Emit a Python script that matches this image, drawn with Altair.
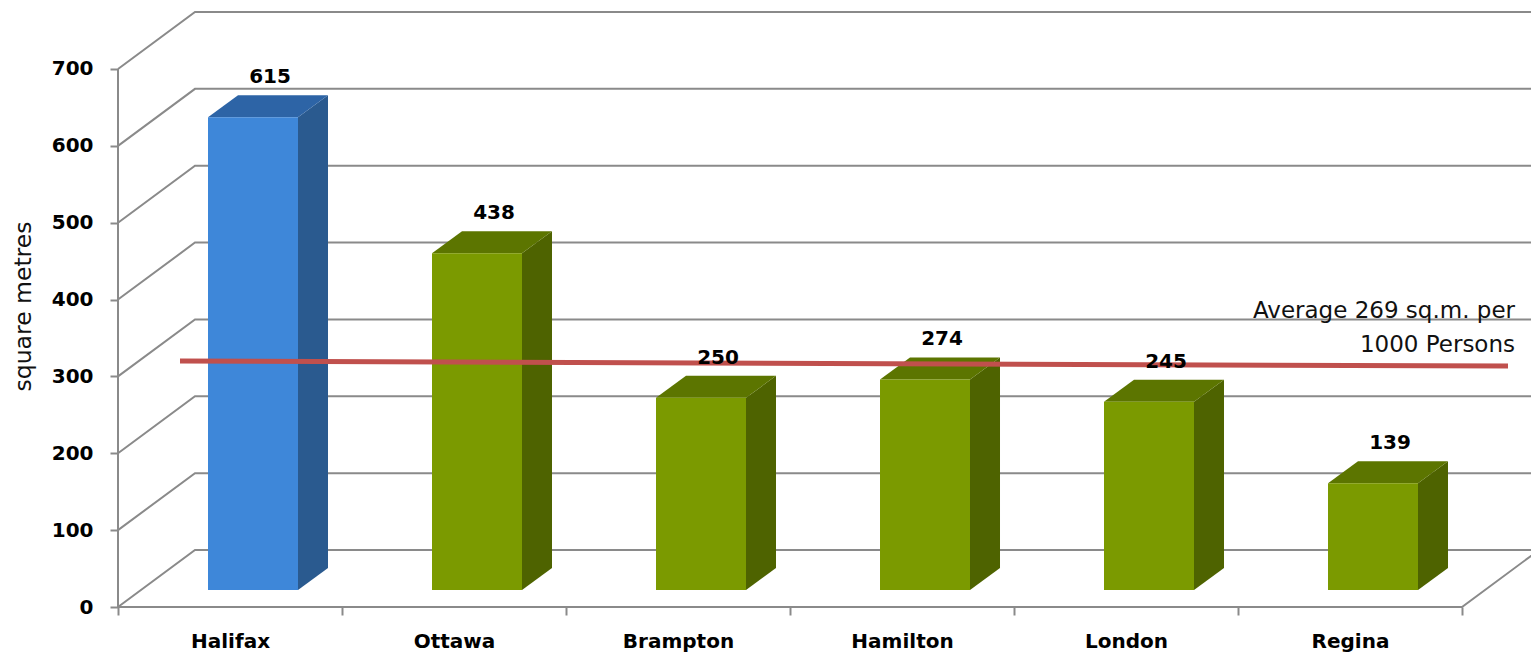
import json
import altair as alt
import pandas as pd

# ---- data -------------------------------------------------------------
cities = ["Halifax", "Ottawa", "Brampton", "Hamilton", "London", "Regina"]
area_per_1000 = [615, 438, 250, 274, 245, 139]
average_value = 269
y_ticks = [0, 100, 200, 300, 400, 500, 600, 700]
highlight_city = "Halifax"

# ---- styling / pseudo-3D geometry ------------------------------------
FONT = "DejaVu Sans"
GRID = "#8a8a8a"
FRONT = {"blue": "#3e87d9", "green": "#7b9a00"}
SIDE = {"blue": "#2a5a8f", "green": "#4e6300"}
TOP = {"blue": "#2d64a6", "green": "#5c7500"}

PLOT_W, PLOT_H = 1413, 607
X_MAX = 6.308          # category units across the plot (incl. wall depth)
Y_MAX = 789.75         # value units up the plot (incl. wall depth)
UX = PLOT_W / X_MAX    # px per category
UY = PLOT_H / Y_MAX    # px per value unit


def cx(px):
    return px / UX


def cy(px):
    return px / UY


WALL_DX, WALL_DY = cx(77), cy(57)     # depth of the back wall
BAR_W = cx(90)
BAR_FX, BAR_FY = cx(23), cy(17)       # depth of the bars' front face
BAR_DX, BAR_DY = cx(30), cy(22)       # thickness of the bars
AVG_LIFT_L, AVG_LIFT_R = 0.69 * WALL_DY, 0.60 * WALL_DY
AVG_X0, AVG_X1 = cx(62), cx(1390)

n = len(cities)

# ---- tables built from the arrays ------------------------------------
grid_rows = []
for v in y_ticks:
    pts = [(0, v), (WALL_DX, v + WALL_DY), (X_MAX, v + WALL_DY)]
    for k, (x, y) in enumerate(pts):
        grid_rows.append({"g": v, "k": k, "x": x, "y": y})
grid_df = pd.DataFrame(grid_rows)

frame_pts = [(0, y_ticks[-1]), (0, 0), (n, 0), (n + WALL_DX, WALL_DY)]
frame_df = pd.DataFrame(
    [{"k": k, "x": x, "y": y} for k, (x, y) in enumerate(frame_pts)]
)

front_rows, side_rows, top_rows, label_rows = [], [], [], []
for i, (c, v) in enumerate(zip(cities, area_per_1000)):
    tone = "blue" if c == highlight_city else "green"
    xl = i + 0.5 - BAR_W / 2 + BAR_FX
    xr = i + 0.5 + BAR_W / 2 + BAR_FX
    front_rows.append({"city": c, "x": xl, "x2": xr, "y": BAR_FY,
                       "y2": v + BAR_FY, "col": FRONT[tone]})
    side_rows += [
        {"city": c, "x": xr, "lo": BAR_FY, "hi": v + BAR_FY, "col": SIDE[tone]},
        {"city": c, "x": xr + BAR_DX, "lo": BAR_FY + BAR_DY,
         "hi": v + BAR_FY + BAR_DY, "col": SIDE[tone]},
    ]
    top_rows += [
        {"city": c, "y": v + BAR_FY, "xl": xl, "xr": xr, "col": TOP[tone]},
        {"city": c, "y": v + BAR_FY + BAR_DY, "xl": xl + BAR_DX,
         "xr": xr + BAR_DX, "col": TOP[tone]},
    ]
    label_rows.append({"city": c, "v": v, "x": (xl + xr) / 2 + BAR_DX / 2 + cx(2),
                       "y": v + BAR_FY + BAR_DY})
front_df = pd.DataFrame(front_rows)
side_df = pd.DataFrame(side_rows)
top_df = pd.DataFrame(top_rows)
label_df = pd.DataFrame(label_rows)

avg_df = pd.DataFrame([
    {"k": 0, "x": AVG_X0, "y": average_value + AVG_LIFT_L},
    {"k": 1, "x": AVG_X1, "y": average_value + AVG_LIFT_R},
])
avg_text_df = pd.DataFrame([{"t": f"Average {average_value} sq.m. per\n1000 Persons"}])

# ---- scales & axes ----------------------------------------------------
xscale = alt.Scale(domain=[0, X_MAX], nice=False, zero=False)
yscale = alt.Scale(domain=[0, Y_MAX], nice=False, zero=False)

names_js = json.dumps(cities)
x_axis = alt.Axis(
    values=[k / 2 for k in range(2 * n + 1)],
    labelExpr=f"datum.value % 1 === 0 ? '' : {names_js}[floor(datum.value)]",
    tickOpacity={"condition": {"test": "datum.value % 1 === 0", "value": 1}, "value": 0},
    tickSize=8, tickWidth=2, tickColor=GRID,
    domain=False, grid=False, labelFlush=False, labelOverlap=False,
    labelFont=FONT, labelFontSize=20, labelFontWeight="bold", labelColor="#000000",
    labelPadding=16, title=None,
)
y_axis = alt.Axis(
    values=y_ticks, domain=False, grid=False,
    tickSize=8, tickWidth=2, tickColor=GRID,
    labelFont=FONT, labelFontSize=20, labelFontWeight="bold", labelColor="#000000",
    labelPadding=17,
    title="square metres", titleFont=FONT, titleFontSize=23.5,
    titleFontWeight="normal", titleColor="#111111",
    titleAngle=-90, titleX=-95, titleY=306,
    titleAlign="center", titleBaseline="middle",
)


def X(field):
    return alt.X(field, scale=xscale, axis=x_axis)


def Y(field):
    return alt.Y(field, scale=yscale, axis=y_axis)


# ---- layers -----------------------------------------------------------
grid = alt.Chart(grid_df).mark_line(color=GRID, strokeWidth=2).encode(
    x=X("x:Q"), y=Y("y:Q"), detail="g:N", order="k:Q",
)

frame = alt.Chart(frame_df).mark_line(color=GRID, strokeWidth=2).encode(
    x=X("x:Q"), y=Y("y:Q"), order="k:Q",
)

side = alt.Chart(side_df).mark_area(orient="vertical").encode(
    x=X("x:Q"), y=Y("lo:Q"), y2="hi:Q",
    detail="city:N",
    color=alt.Color("col:N", scale=None),
)

top = alt.Chart(top_df).mark_area(orient="horizontal").encode(
    y=Y("y:Q"), x=X("xl:Q"), x2="xr:Q",
    detail="city:N",
    color=alt.Color("col:N", scale=None),
)

front = alt.Chart(front_df).mark_rect().encode(
    x=X("x:Q"), x2="x2:Q", y=Y("y:Q"), y2="y2:Q",
    color=alt.Color("col:N", scale=None),
)

avg_line = alt.Chart(avg_df).mark_line(color="#c0504d", strokeWidth=5).encode(
    x=X("x:Q"), y=Y("y:Q"), order="k:Q",
)

value_labels = alt.Chart(label_df).mark_text(
    font=FONT, fontSize=20, fontWeight="bold", color="#000000",
    baseline="alphabetic", align="center", dy=-12,
).encode(
    x=X("x:Q"), y=Y("y:Q"), text="v:Q",
)

avg_label = alt.Chart(avg_text_df).mark_text(
    font=FONT, fontSize=23, color="#111111", align="right",
    baseline="alphabetic", lineBreak="\n", lineHeight=34,
).encode(
    x=alt.value(1397),
    y=alt.value(318),
    text="t:N",
)

chart = alt.layer(
    grid, frame, side, top, front, avg_line, value_labels, avg_label
).properties(
    width=PLOT_W,
    height=PLOT_H,
    autosize=alt.AutoSizeParams(type="none"),
    padding={"left": 118, "top": 0, "right": 0, "bottom": 45},
    background="#ffffff",
).configure_view(stroke=None)

chart.save("out.html", embed_options={"renderer": "svg", "actions": False})
